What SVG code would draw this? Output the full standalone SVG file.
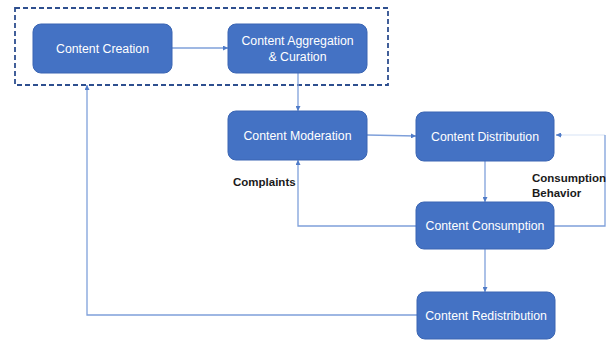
<svg xmlns="http://www.w3.org/2000/svg" width="612" height="341" viewBox="0 0 612 341">
  <style>
    .box { fill: #4472C4; stroke: #3A65B3; stroke-width: 1; }
    .label { fill: #FFFFFF; font-family: "Liberation Sans", Arial, sans-serif; font-size: 12.3px; text-anchor: middle; }
    .note { fill: #1A1A1A; font-family: "Liberation Sans", Arial, sans-serif; font-size: 11.5px; font-weight: bold; }
    .wire { fill: none; stroke: #7FA0DA; stroke-width: 1.3; }
    .group { fill: none; stroke: #2E4F8F; stroke-width: 1.8; stroke-dasharray: 5 3; }
  </style>
  <defs>
    <marker id="arrow" viewBox="0 0 6 6" refX="6" refY="3" markerWidth="5" markerHeight="5" orient="auto" markerUnits="userSpaceOnUse">
      <path d="M0,0 L6,3 L0,6 z" fill="#4F7BC8"/>
    </marker>
  </defs>

  <rect width="612" height="341" fill="#FFFFFF"/>

  <!-- dashed grouping around creation and aggregation -->
  <rect class="group" x="15" y="8" width="373" height="77"/>

  <g id="connectors">
    <line class="wire" x1="172" y1="48" x2="228" y2="48" marker-end="url(#arrow)"/>
    <line class="wire" x1="298" y1="73" x2="298" y2="111" marker-end="url(#arrow)"/>
    <line class="wire" x1="367" y1="135" x2="416" y2="136" marker-end="url(#arrow)"/>
    <line class="wire" x1="485" y1="161" x2="485" y2="202" marker-end="url(#arrow)"/>
    <line class="wire" x1="485" y1="249" x2="485" y2="292" marker-end="url(#arrow)"/>
    <!-- complaints feedback -->
    <path class="wire" d="M416,226 H298 V160" marker-end="url(#arrow)"/>
    <!-- consumption behavior feedback -->
    <path class="wire" d="M554,226 H605 V135"/>
    <path class="wire" d="M605,135 H558" stroke-opacity="0.2"/>
    <line class="wire" x1="562" y1="135" x2="556" y2="135" marker-end="url(#arrow)"/>
    <!-- redistribution back to creation -->
    <path class="wire" d="M417,315 H87 V85" marker-end="url(#arrow)"/>
  </g>

  <g id="content-creation">
    <rect class="box" x="33" y="24" width="139" height="49" rx="8"/>
    <text class="label" x="102.5" y="52.5">Content Creation</text>
  </g>
  <g id="content-aggregation">
    <rect class="box" x="228" y="24" width="139" height="49" rx="8"/>
    <text class="label" x="297.5" y="45">Content Aggregation</text>
    <text class="label" x="297.5" y="61">&amp; Curation</text>
  </g>
  <g id="content-moderation">
    <rect class="box" x="228" y="111" width="139" height="49" rx="8"/>
    <text class="label" x="297.5" y="139.5">Content Moderation</text>
  </g>
  <g id="content-distribution">
    <rect class="box" x="416" y="112" width="138" height="49" rx="8"/>
    <text class="label" x="485" y="140.5">Content Distribution</text>
  </g>
  <g id="content-consumption">
    <rect class="box" x="416" y="202" width="138" height="47" rx="8"/>
    <text class="label" x="485" y="230">Content Consumption</text>
  </g>
  <g id="content-redistribution">
    <rect class="box" x="417" y="292" width="138" height="47" rx="8"/>
    <text class="label" x="486" y="320">Content Redistribution</text>
  </g>

  <text class="note" x="233" y="186">Complaints</text>
  <text class="note" x="532" y="182">Consumption</text>
  <text class="note" x="532" y="197">Behavior</text>
</svg>
